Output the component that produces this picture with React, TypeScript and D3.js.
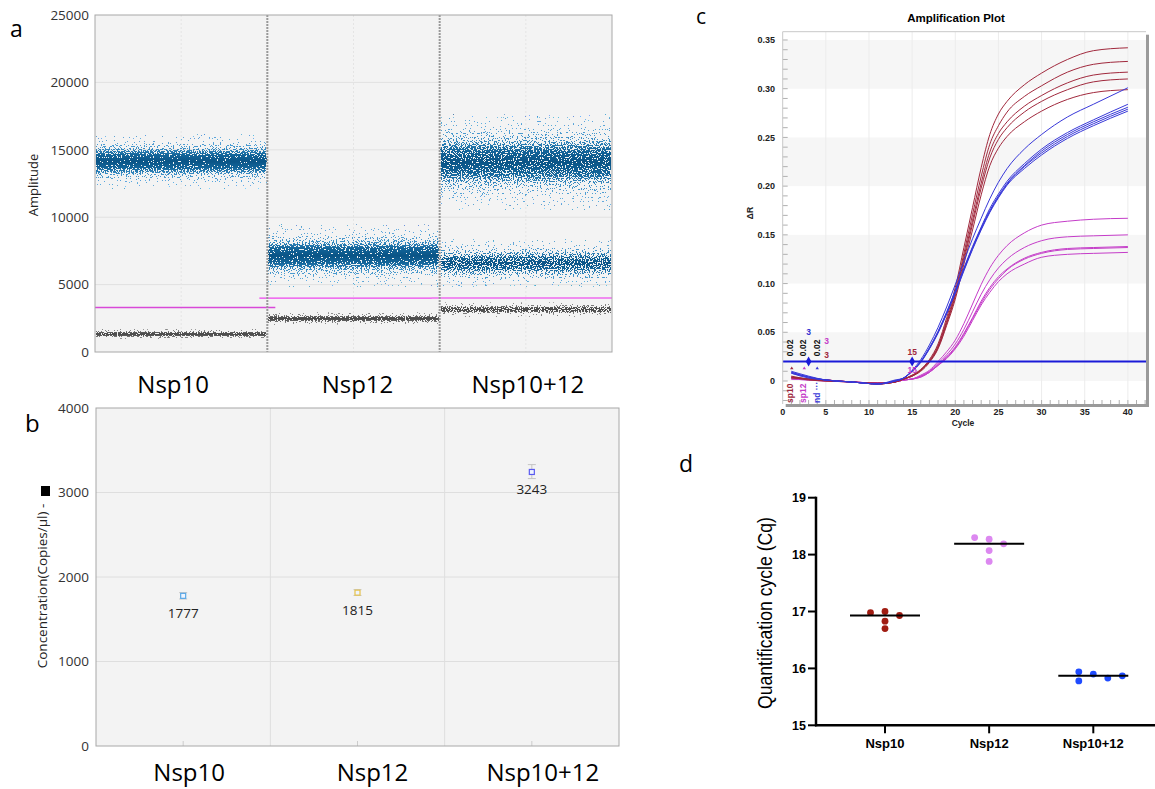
import React from "react"
import * as d3 from "d3"

// ---------- panel a : droplet amplitude ----------
const wells = ["Nsp10", "Nsp12", "Nsp10+12"]
// droplet clusters per well (amplitude centre / spread), drawn as density bands
const clusterWell = [0, 0, 1, 1, 2, 2, 2]
const clusterType = ["pos", "neg", "pos", "neg", "pos", "pos", "neg"]
const clusterCenter = [14150, 1330, 7150, 2480, 14100, 6600, 3150]
const clusterSpread = [480, 100, 540, 120, 850, 450, 140]
const clusterDensity = [1, 1, 1, 1, 0.85, 0.7, 0.75]
const thresholdAmp = [3300, 4000, 4000]
const thresholdColor = ["#d848d8", "#ee44ee", "#f08cf0"]

// ---------- panel b : concentration ----------
const concValues = [1777, 1815, 3243]
const concLow = [1740, 1782, 3165]
const concHigh = [1815, 1850, 3330]
const concColors = ["#5aa8e6", "#e6c24a", "#5a5af0"]

// ---------- panel c : amplification plot ----------
const cycles = [1, 3, 5, 8, 11, 13, 14, 15, 16, 17, 18, 19, 20, 21, 22, 23, 24, 25, 26, 28, 30, 33, 36, 40]
const nsp10Curves = [
  [0.004, 0.002, 0.001, -0.001, -0.003, -0.001, 0.002, 0.006, 0.012, 0.022, 0.038, 0.065, 0.096, 0.137, 0.178, 0.219, 0.253, 0.274, 0.287, 0.304, 0.316, 0.330, 0.339, 0.342],
  [0.005, 0.002, 0.001, -0.001, -0.003, -0.001, 0.002, 0.006, 0.011, 0.021, 0.036, 0.062, 0.092, 0.131, 0.171, 0.210, 0.243, 0.262, 0.276, 0.292, 0.303, 0.317, 0.325, 0.328],
  [0.004, 0.002, 0.000, -0.001, -0.003, -0.001, 0.002, 0.005, 0.011, 0.020, 0.035, 0.060, 0.089, 0.127, 0.165, 0.203, 0.235, 0.254, 0.266, 0.282, 0.293, 0.306, 0.314, 0.317],
  [0.003, 0.002, 0.001, -0.001, -0.002, -0.001, 0.002, 0.005, 0.011, 0.020, 0.034, 0.059, 0.087, 0.124, 0.161, 0.198, 0.229, 0.248, 0.260, 0.276, 0.287, 0.299, 0.307, 0.310],
  [0.004, 0.001, 0.000, -0.001, -0.003, -0.001, 0.002, 0.005, 0.010, 0.019, 0.033, 0.057, 0.084, 0.120, 0.155, 0.191, 0.221, 0.239, 0.251, 0.266, 0.277, 0.289, 0.296, 0.299],
]
const nsp12Curves = [
  [0.003, 0.002, 0.001, -0.001, -0.002, -0.001, 0.001, 0.002, 0.006, 0.011, 0.020, 0.030, 0.042, 0.059, 0.079, 0.099, 0.116, 0.129, 0.139, 0.152, 0.160, 0.164, 0.166, 0.167],
  [0.003, 0.002, 0.001, -0.001, -0.002, -0.001, 0.001, 0.002, 0.005, 0.010, 0.018, 0.027, 0.038, 0.053, 0.071, 0.089, 0.104, 0.116, 0.125, 0.137, 0.144, 0.148, 0.149, 0.150],
  [0.002, 0.001, 0.000, -0.001, -0.002, -0.001, 0.001, 0.002, 0.005, 0.009, 0.017, 0.025, 0.035, 0.049, 0.065, 0.082, 0.096, 0.107, 0.115, 0.126, 0.132, 0.136, 0.137, 0.138],
  [0.003, 0.002, 0.001, -0.001, -0.002, -0.001, 0.001, 0.002, 0.004, 0.009, 0.016, 0.024, 0.034, 0.048, 0.064, 0.080, 0.094, 0.105, 0.114, 0.125, 0.131, 0.135, 0.136, 0.137],
  [0.002, 0.001, 0.000, -0.001, -0.002, -0.001, 0.001, 0.002, 0.004, 0.009, 0.016, 0.023, 0.033, 0.046, 0.062, 0.078, 0.091, 0.102, 0.110, 0.120, 0.127, 0.130, 0.131, 0.132],
]
const nsp1012Curves = [
  [0.010, 0.005, 0.001, -0.001, -0.003, 0.000, 0.003, 0.011, 0.022, 0.037, 0.055, 0.076, 0.099, 0.123, 0.146, 0.167, 0.187, 0.204, 0.218, 0.238, 0.253, 0.271, 0.284, 0.301],
  [0.009, 0.004, 0.001, -0.001, -0.003, 0.000, 0.003, 0.010, 0.020, 0.034, 0.051, 0.071, 0.093, 0.116, 0.138, 0.158, 0.177, 0.192, 0.205, 0.223, 0.238, 0.255, 0.268, 0.284],
  [0.008, 0.004, 0.001, -0.001, -0.003, 0.000, 0.003, 0.010, 0.020, 0.034, 0.050, 0.070, 0.092, 0.115, 0.137, 0.157, 0.175, 0.190, 0.203, 0.221, 0.236, 0.253, 0.266, 0.281],
  [0.009, 0.004, 0.001, -0.001, -0.003, 0.001, 0.003, 0.010, 0.020, 0.033, 0.050, 0.069, 0.091, 0.114, 0.136, 0.156, 0.174, 0.189, 0.202, 0.220, 0.234, 0.251, 0.264, 0.279],
  [0.008, 0.003, 0.001, -0.001, -0.003, 0.000, 0.003, 0.010, 0.019, 0.033, 0.049, 0.069, 0.090, 0.113, 0.135, 0.155, 0.173, 0.188, 0.201, 0.218, 0.232, 0.249, 0.262, 0.277],
]
const curveColors = ["#a0283c", "#c43cc8", "#3838d8"]
const threshold = 0.02
const thresholdMarks = [3, 15]
// small annotations of the plot software: [cycle, ΔR, text, colour]
const cqNotes = [
  [3, 0.05, "3", "#3030d0"],
  [5.1, 0.041, "3", "#c43cc8"],
  [5.1, 0.027, "3", "#a0283c"],
  [15, 0.03, "15", "#a0283c"],
  [15, 0.011, "15", "#c43cc8"],
]
const thrLabelCycles = [0.85, 2.4, 3.95]
const startMarks = [1.05, 2.5, 4.0]
const legendText = ["sp10", "sp12", "nd \u00b7\u00b7\u00b7"]

// ---------- panel d : Cq ----------
const cqCategories = ["Nsp10", "Nsp12", "Nsp10+12"]
const cqNsp10 = [17.0, 16.98, 16.93, 16.83, 16.7]
const cqNsp12 = [18.27, 18.3, 18.19, 18.07, 17.88]
const cqNsp1012 = [15.9, 15.94, 15.83, 15.78, 15.87]
const cqColors = ["#a01c12", "#dc88f0", "#1f4bff"]

function dodge(values: number[], y: (v: number) => number, step: number, gap: number) {
  const order = [0, -1, 1, 2, -2, 3, -3]
  const placed: { k: number; py: number }[] = []
  return values.map((v) => {
    const py = y(v)
    for (const k of order) {
      if (!placed.some((p) => p.k === k && Math.abs(p.py - py) < gap)) {
        placed.push({ k, py })
        return k * step
      }
    }
    return 0
  })
}

export default function App() {
  // panel a scales
  const xA = d3.scaleBand().domain(wells).range([95, 612])
  const yA = d3.scaleLinear().domain([0, 25000]).range([352, 15])
  // panel b scales
  const xB = d3.scaleBand().domain(wells).range([96, 619])
  const yB = d3.scaleLinear().domain([0, 4000]).range([746, 408])
  // panel c scales
  const xC = d3.scaleLinear().domain([0, 42.1]).range([782.7, 1146])
  const yC = d3.scaleLinear().domain([-0.0236, 0.3585]).range([404, 31.7])
  // panel d scales
  const xD = d3.scalePoint().domain(cqCategories).range([885, 1093.3])
  const yD = d3.scaleLinear().domain([15, 19]).range([725.3, 497.7])

  const sigmaStops = [0, 1, 2, 3, 4, 5]
  const posAlpha = [1, 0.8, 0.35, 0.1, 0.03, 0]
  const posColor = ["#0a5486", "#13659a", "#3b8fc6", "#5aa6da", "#6ab0e0", "#6ab0e0"]
  const negAlpha = [1, 0.75, 0.28, 0.07, 0.02, 0]
  const negColor = ["#4a4a4a", "#555555", "#777777", "#8a8a8a", "#999999", "#999999"]

  const line = d3
    .line<number>()
    .x((d, i) => xC(cycles[i]))
    .y((d) => yC(d))
    .curve(d3.curveMonotoneX)

  const cqGroups = [cqNsp10, cqNsp12, cqNsp1012]
  const cqOffsets = cqGroups.map((g) => dodge(g, yD, 14.5, 7))

  const cTop = yC.range()[1]
  const cBot = yC.range()[0]
  const cLeft = xC.range()[0]
  const cRight = xC.range()[1]

  const labelShiftA = [-8, 4, 2]
  const labelShiftB = [6, 15, 11]

  return (
    <svg
      width={1155}
      height={789}
      style={{ position: "absolute", left: 0, top: 0, background: "#fff" }}
      fontFamily="Open Sans"
    >
      <defs>
        {["pos", "neg"].map((t) => (
          <linearGradient key={t} id={"grad-" + t} x1="0" y1="0" x2="0" y2="1">
            {[...sigmaStops].reverse().map((s) => (
              <stop
                key={"u" + s}
                offset={50 - s * 10 + "%"}
                stopColor={(t === "pos" ? posColor : negColor)[s]}
                stopOpacity={(t === "pos" ? posAlpha : negAlpha)[s]}
              />
            ))}
            {sigmaStops.slice(1).map((s) => (
              <stop
                key={"d" + s}
                offset={50 + s * 10 + "%"}
                stopColor={(t === "pos" ? posColor : negColor)[s]}
                stopOpacity={(t === "pos" ? posAlpha : negAlpha)[s]}
              />
            ))}
          </linearGradient>
        ))}
        <filter id="dither" filterUnits="userSpaceOnUse" x="0" y="0" width="1155" height="789" colorInterpolationFilters="sRGB">
          <feTurbulence type="fractalNoise" baseFrequency="0.75" numOctaves="1" seed="5" result="noise" />
          <feColorMatrix in="noise" type="matrix" values="0 0 0 0 0  0 0 0 0 0  0 0 0 0 0  2.5 0 0 0 -0.75" result="n" />
          <feComposite in="SourceGraphic" in2="n" operator="arithmetic" k1="0" k2="1" k3="-1" k4="0.48" result="diff" />
          <feComponentTransfer in="diff" result="mask">
            <feFuncA type="discrete" tableValues="0 1" />
          </feComponentTransfer>
          <feColorMatrix in="SourceGraphic" type="matrix" values="1 0 0 0 0  0 1 0 0 0  0 0 1 0 0  0 0 0 0 1" result="opaque" />
          <feComposite in="opaque" in2="mask" operator="in" />
        </filter>
        <clipPath id="clipA">
          <rect x={95} y={15} width={517} height={337} />
        </clipPath>
        <clipPath id="clipC">
          <rect x={cLeft} y={cTop} width={cRight - cLeft} height={cBot - cTop} />
        </clipPath>
      </defs>

      {/* ================= panel a ================= */}
      <text x={10} y={37} fontSize={23}>a</text>
      <rect x={95} y={15} width={517} height={337} fill="#f3f3f3" />
      {yA.ticks(5).slice(1, -1).map((t) => (
        <line key={t} x1={95} x2={612} y1={yA(t)} y2={yA(t)} stroke="#e1e1e1" />
      ))}
      {wells.map((w) => (
        <line key={w} x1={xA(w)! + xA.bandwidth() / 2} x2={xA(w)! + xA.bandwidth() / 2} y1={15} y2={352} stroke="#e4e4e4" strokeDasharray="2 2" />
      ))}
      <g clipPath="url(#clipA)" filter="url(#dither)">
        {clusterCenter.map((c, i) => {
          const x0 = xA(wells[clusterWell[i]])!
          const top = yA(c + 5 * clusterSpread[i])
          const bot = yA(c - 5 * clusterSpread[i])
          return (
            <rect
              key={i}
              x={x0 + 1}
              y={top}
              width={xA.bandwidth() - 2}
              height={bot - top}
              fill={"url(#grad-" + clusterType[i] + ")"}
              fillOpacity={clusterDensity[i]}
            />
          )
        })}
      </g>
      {thresholdAmp.map((t, i) => {
        const x0 = Math.max(95, xA(wells[i])! - 8)
        const x1 = Math.min(612, xA(wells[i])! + xA.bandwidth() + 8)
        return <line key={i} x1={x0} x2={x1} y1={yA(t)} y2={yA(t)} stroke={thresholdColor[i]} strokeWidth={i === 2 ? 2 : 1.3} />
      })}
      {wells.slice(1).map((w) => (
        <line key={w} x1={xA(w)} x2={xA(w)} y1={15} y2={352} stroke="#999" strokeWidth={2} strokeDasharray="2 1" />
      ))}
      <rect x={95} y={15} width={517} height={337} fill="none" stroke="#a8a8a8" />
      {yA.ticks(5).map((t) => (
        <text key={t} x={89} y={yA(t)} dy="0.35em" textAnchor="end" fontSize={13.5} fill="#333">
          {t}
        </text>
      ))}
      <text transform="translate(38,185) rotate(-90)" textAnchor="middle" fontSize={13} fill="#222">
        Amplitude
      </text>
      {wells.map((w, i) => (
        <text key={w} x={xA(w)! + xA.bandwidth() / 2 + labelShiftA[i]} y={393} textAnchor="middle" fontSize={24}>
          {w}
        </text>
      ))}

      {/* ================= panel b ================= */}
      <text x={25} y={432} fontSize={24}>b</text>
      <rect x={96} y={408} width={523} height={338} fill="#f3f3f3" />
      {yB.ticks(4).slice(1, -1).map((t) => (
        <line key={t} x1={96} x2={619} y1={yB(t)} y2={yB(t)} stroke="#dedede" />
      ))}
      {wells.slice(1).map((w) => (
        <line key={w} x1={xB(w)} x2={xB(w)} y1={408} y2={746} stroke="#dedede" />
      ))}
      {wells.map((w) => (
        <line key={w} x1={xB(w)! + xB.bandwidth() / 2} x2={xB(w)! + xB.bandwidth() / 2} y1={741} y2={746} stroke="#ccc" />
      ))}
      <rect x={96} y={408} width={523} height={338} fill="none" stroke="#a8a8a8" />
      {concValues.map((v, i) => {
        const cx = xB(wells[i])! + xB.bandwidth() / 2
        return (
          <g key={i}>
            <line x1={cx} x2={cx} y1={yB(concLow[i])} y2={yB(concHigh[i])} stroke="#c4c4c4" />
            <line x1={cx - 4} x2={cx + 4} y1={yB(concLow[i])} y2={yB(concLow[i])} stroke="#c4c4c4" />
            <line x1={cx - 4} x2={cx + 4} y1={yB(concHigh[i])} y2={yB(concHigh[i])} stroke="#c4c4c4" />
            <rect x={cx - 2.5} y={yB(v) - 2.5} width={5} height={5} fill="#eef4ff" stroke={concColors[i]} strokeWidth={1.2} />
            <text x={cx} y={yB(v) + 22} textAnchor="middle" fontSize={13.5} fill="#222">
              {v}
            </text>
          </g>
        )
      })}
      {yB.ticks(4).map((t) => (
        <text key={t} x={89} y={yB(t)} dy="0.35em" textAnchor="end" fontSize={13.5} fill="#333">
          {t}
        </text>
      ))}
      <rect x={41} y={486} width={9} height={10} fill="#000" />
      <text transform="translate(47,586) rotate(-90)" textAnchor="middle" fontSize={13.5} fill="#222">
        Concentration(Copies/µl) -
      </text>
      {wells.map((w, i) => (
        <text key={w} x={xB(w)! + xB.bandwidth() / 2 + labelShiftB[i]} y={781} textAnchor="middle" fontSize={24}>
          {w}
        </text>
      ))}

      {/* ================= panel c ================= */}
      <text x={696} y={24} fontSize={21}>c</text>
      <g fontFamily="Liberation Sans" fontWeight="bold">
        <text x={956} y={22} textAnchor="middle" fontSize={11.5}>
          Amplification Plot
        </text>
        <rect x={cLeft + 3} y={cTop + 3} width={cRight - cLeft} height={cBot - cTop} fill="#9a9a9a" />
        <rect x={cLeft} y={cTop} width={cRight - cLeft} height={cBot - cTop} fill="#fff" />
        {d3.range(0, 0.35, 0.1).map((b) => (
          <rect key={b} x={cLeft} y={yC(b + 0.05)} width={cRight - cLeft} height={yC(b) - yC(b + 0.05)} fill="#f6f6f6" />
        ))}
        {d3.range(5, 41, 5).map((c) => (
          <line key={c} x1={xC(c)} x2={xC(c)} y1={cTop} y2={cBot} stroke="#ececec" />
        ))}
        {d3.range(-2, 36).map((k) => (
          <line key={k} x1={cLeft} x2={cLeft + 5} y1={yC(k / 100)} y2={yC(k / 100)} stroke="#b0b0b0" />
        ))}
        {d3.range(1, 43).map((c) => (
          <line key={c} x1={xC(c)} x2={xC(c)} y1={cBot} y2={cBot - 4} stroke="#b0b0b0" />
        ))}
        <g clipPath="url(#clipC)">
          {[nsp12Curves, nsp10Curves, nsp1012Curves].map((group, gi) =>
            group.map((curve, i) => (
              <path
                key={gi + "-" + i}
                d={line(curve)!}
                fill="none"
                stroke={curveColors[gi === 0 ? 1 : gi === 1 ? 0 : 2]}
                strokeWidth={1}
              />
            ))
          )}
          <line x1={cLeft} x2={cRight} y1={yC(threshold)} y2={yC(threshold)} stroke="#1a1ad8" strokeWidth={2} />
          {thresholdMarks.map((c) => (
            <path key={c} d={d3.symbol(d3.symbolDiamond, 28)()!} transform={`translate(${xC(c)},${yC(threshold)})`} fill="#1a1ad8" />
          ))}
          {startMarks.map((c, i) => (
            <path key={c} d={d3.symbol(d3.symbolTriangle, 5)()!} transform={`translate(${xC(c)},${yC(0.013)})`} fill={curveColors[i === 0 ? 0 : i === 1 ? 1 : 2]} />
          ))}
          {thrLabelCycles.map((c) => (
            <text key={c} transform={`translate(${xC(c) + 3},${yC(0.034)}) rotate(-90)`} textAnchor="middle" fontSize={8.5} fill="#111">
              {threshold.toFixed(2)}
            </text>
          ))}
          {cqNotes.map((n, i) => (
            <text key={i} x={xC(n[0] as number)} y={yC(n[1] as number)} dy="0.35em" textAnchor="middle" fontSize={8.5} fill={n[3] as string}>
              {n[2]}
            </text>
          ))}
          {legendText.map((t, i) => (
            <text key={t} transform={`translate(${xC(thrLabelCycles[i]) + 3},${cBot - 1}) rotate(-90)`} fontSize={8.5} fill={curveColors[i === 0 ? 0 : i === 1 ? 1 : 2]}>
              {t}
            </text>
          ))}
        </g>
        <line x1={cLeft} x2={cLeft} y1={cTop} y2={cBot} stroke="#c8c8c8" />
        <line x1={cLeft} x2={cRight} y1={cTop} y2={cTop} stroke="#c8c8c8" />
        {d3.range(0, 0.351, 0.05).map((t) => (
          <text key={t} x={775} y={yC(t)} dy="0.35em" textAnchor="end" fontSize={9} fill="#222">
            {t < 0.001 ? "0" : t.toFixed(2)}
          </text>
        ))}
        {d3.range(0, 41, 5).map((t) => (
          <text key={t} x={xC(t)} y={415} textAnchor="middle" fontSize={9} fill="#222">
            {t}
          </text>
        ))}
        <text x={963} y={426} textAnchor="middle" fontSize={8.5} fill="#222">
          Cycle
        </text>
        <text transform="translate(753,213) rotate(-90)" textAnchor="middle" fontSize={8.5} fill="#222">
          ΔR
        </text>
      </g>

      {/* ================= panel d ================= */}
      <text x={679} y={472} fontSize={23}>d</text>
      <g fontFamily="Liberation Sans">
        {cqGroups.map((g, gi) => {
          const cx = xD(cqCategories[gi])!
          return (
            <g key={gi}>
              {g.map((v, i) => (
                <circle key={i} cx={cx + cqOffsets[gi][i]} cy={yD(v)} r={3.4} fill={cqColors[gi]} />
              ))}
              <line x1={cx - 35} x2={cx + 35} y1={yD(d3.median(g)!)} y2={yD(d3.median(g)!)} stroke="#000" strokeWidth={2} />
            </g>
          )
        })}
        <line x1={816} x2={816} y1={yD(19) - 1} y2={yD(15) + 1} stroke="#000" strokeWidth={2.5} />
        <line x1={815} x2={1155} y1={yD(15)} y2={yD(15)} stroke="#000" strokeWidth={2.5} />
        {yD.ticks(4).map((t) => (
          <g key={t}>
            <line x1={808} x2={816} y1={yD(t)} y2={yD(t)} stroke="#000" strokeWidth={2} />
            <text x={806} y={yD(t)} dy="0.36em" textAnchor="end" fontSize={12.5} fontWeight="bold">
              {t}
            </text>
          </g>
        ))}
        {cqCategories.map((c) => (
          <g key={c}>
            <line x1={xD(c)} x2={xD(c)} y1={yD(15)} y2={yD(15) + 8} stroke="#000" strokeWidth={2} />
            <text x={xD(c)} y={748} textAnchor="middle" fontSize={13} fontWeight="bold">
              {c}
            </text>
          </g>
        ))}
        <text transform="translate(772,613) rotate(-90)" textAnchor="middle" fontSize={21} textLength={192} lengthAdjust="spacingAndGlyphs">
          Quantification cycle (Cq)
        </text>
      </g>
    </svg>
  )
}
